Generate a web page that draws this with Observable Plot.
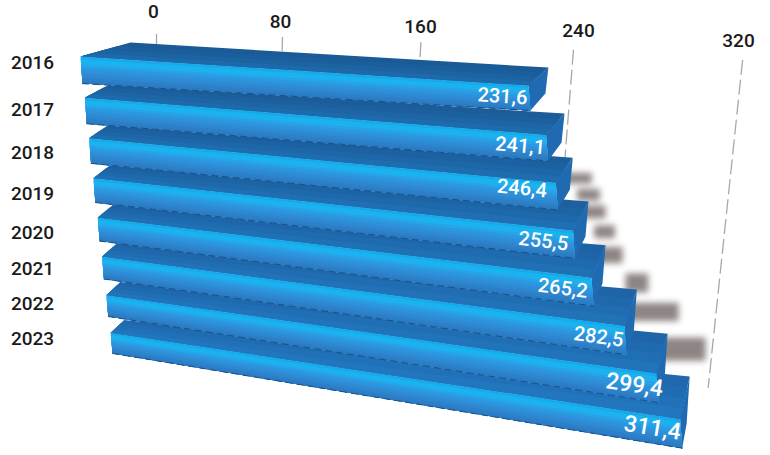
<!DOCTYPE html>
<html><head><meta charset="utf-8">
<style>html,body{margin:0;padding:0;background:#fff}svg{display:block}</style>
<script src="https://cdn.jsdelivr.net/npm/d3@7"></script>
<script src="https://cdn.jsdelivr.net/npm/@observablehq/plot@0.6"></script>
</head><body><div id="chart"></div>
<script>
const years = ["2016","2017","2018","2019","2020","2021","2022","2023"];
const values = [231.6,241.1,246.4,255.5,265.2,282.5,299.4,311.4];
const valueLabels = ["231,6","241,1","246,4","255,5","265,2","282,5","299,4","311,4"];
const xTicks = [0,80,160,240,320];
const topColorsFar = ["#1a5a96","#1b5e9c","#1c63a2","#1d69a9"];
const topColorsNear = ["#1f68ac","#206cb2","#2171b8","#2276bd"];
const frontColors = ["#19a9ea","#18b4f0","#1fb0ef","#27a3e8","#2b99e2","#2d92db","#2e8cd5","#2e86ce","#2d80c8","#2b7bc2"];
const sideColor = "#1f6ab1";
const shadowRows = [2,3,3,4,4,5,5,6];
const shadowLength = [10,9,6,9,5,22,6,20];
const shadowFrom = [0.69,0.48,0.17,0.44,0.04,0.65,0.11,0.48];
const shadowTo = [0.89,0.72,0.39,0.74,0.28,0.99,0.46,0.91];

// Perspective calibration: (value, row) -> picture
const AXIS_TOP=-1, AXIS_BOTTOM=-2, AXIS_LABEL=-3, YEAR_LABEL=-20, SHADOW=100;
const labelNudge=[0,0,-4,-2,-1.5,0,4,1];
const labelRow=[0.6,0.6,0.53,0.6,0.6,0.6,0.6,0.58];
const labelSize=[20,20,20,20,20,20,23,23];
const xfl = r => 80+4.3*r;
const sf  = r => 1.934-0.022*r+0.001*r*r;
const yft = r => 56+41.4*r-0.27*r*r;
const yfb = r => yft(r)+27-r;
const mft = r => 0.065+0.0165*r-0.0006*r*r;
const mfb = r => 0.06+0.0215*r-0.0009*r*r;
const mbk = r => 0.06+0.0057*r;
const offL = r => 10+40/(1+1.5*r);
const offR = r => 20-1.5*r;
const ft = (v,r) => {const x=xfl(r)+v*sf(r); return [x,yft(r)+(x-xfl(r))*mft(r)];};
const fb = (v,r) => {const x=xfl(r)+2+v*sf(r); return [x,yfb(r)+(x-xfl(r))*mfb(r)];};
const bk = (v,r) => {
  const x0=xfl(r)+offL(r), y0=yft(r)-14+0.15*r;
  const x=xfl(r)+v*sf(r)+offL(r)+(offR(r)-offL(r))*(v/values[r]);
  return [x,y0+(x-x0)*mbk(r)];
};
const mix=(a,b,t)=>[a[0]+(b[0]-a[0])*t,a[1]+(b[1]-a[1])*t];
const axisX = v => 156+1.505*v/(1-0.000557*v);
const axisYTop = v => 34+0.02*v+0.00019*v*v;
const axisYBottom = d3.scaleLinear(xTicks,[50,50,70,200,387]);
const labelX = d3.scaleLinear(xTicks,[153,280,420,578,738]);
const labelY = d3.scaleLinear(xTicks,[11,21,26,30,40]);
const yearY = d3.scaleLinear(d3.range(8),[62,109,152,193,232,268,303,338]);

function place(v,s){
  if(s===AXIS_TOP) return [axisX(v),axisYTop(v)];
  if(s===AXIS_BOTTOM){const y=axisYBottom(v), t=axisYTop(v); return [axisX(v)-(y-t)*0.105*(v/320),y];}
  if(s===AXIS_LABEL) return [labelX(v),labelY(v)];
  if(s<=YEAR_LABEL) return [32,yearY(YEAR_LABEL-s)];
  if(s>=SHADOW){
    const q=s-SHADOW, r=Math.floor(q+1e-9), t=q-r, p=bk(values[r],r);
    return [p[0]+(v-values[r])*1.9,p[1]-22+t*54];
  }
  const r=Math.floor(s+1e-9), f=s-r;
  if(f>0.85){const p=bk(values[r],r); return [p[0]-3,p[1]+26+3*r];}
  if(f<=0.4) return mix(bk(v,r),ft(v,r),f/0.4);
  return mix(ft(v,r),fb(v,r),(f-0.4)/0.4);
}
const projection = d3.geoTransform({point(x,y){const p=place(x,y); this.stream.point(p[0],p[1]);}});

const poly=(pts,color)=>({type:"Polygon",coordinates:[[...pts,pts[0]]],color});
const faces=[];
for(let r=7;r>=0;--r){
  const v=values[r], end=r+0.4, bot=r+0.8;
  topColorsFar.forEach((c,i)=>{const a=r+0.4*i/4; faces.push(poly([[0,a],[v,a],[v,end],[0,end]],d3.interpolateRgb(c,topColorsNear[i])(r/7)));});
  faces.push(poly([[v,r],[v,r+0.9],[v,bot],[v,end]],sideColor));
  frontColors.forEach((c,i)=>{const a=end+0.4*i/frontColors.length; faces.push(poly([[0,a],[v,a],[v,bot],[0,bot]],c));});
  faces.push({type:"LineString",coordinates:[[0,bot],[v,bot]],edge:true,color:"none"});
}
const shadows=shadowRows.map((r,i)=>{
  const a=SHADOW+r+shadowFrom[i], b=SHADOW+r+shadowTo[i], v=values[r];
  return poly([[v-6,a],[v+shadowLength[i],a],[v+shadowLength[i],b],[v-6,b]],"#8d8583");
});
const tickLines=xTicks.map(v=>({type:"LineString",coordinates:[[v,AXIS_TOP],[v,AXIS_BOTTOM]]}));

const plot=Plot.plot({
  width:770,height:455,margin:0,
  projection,
  color:{type:"identity"},
  marks:[
    Plot.geo(tickLines,{stroke:"#a8a8a8",strokeWidth:1.3,strokeDasharray:"14 6"}),
    Plot.geo(shadows,{fill:"color",imageFilter:"blur(3px)"}),
    Plot.geo(faces,{fill:"color",stroke:d=>d.edge?"#1b4f86":"none",strokeWidth:1,strokeDasharray:"6 5"}),
    Plot.text(xTicks,{x:d=>d,y:()=>AXIS_LABEL,text:d=>String(d),fontFamily:"Roboto",fontWeight:500,fontSize:19,fill:"#1a1a1a"}),
    Plot.text(years,{x:()=>0,y:(d,i)=>YEAR_LABEL-i,text:d=>d,fontFamily:"Roboto",fontWeight:500,fontSize:19,fill:"#1a1a1a"}),
    Plot.text(values,{x:(d,i)=>d+labelNudge[i],y:(d,i)=>i+labelRow[i],text:(d,i)=>valueLabels[i],rotate:(d,i)=>Math.atan((mft(i)+mfb(i))/2)*180/Math.PI,textAnchor:"end",dx:-2,fontFamily:"Roboto",fontWeight:500,fontSize:(d,i)=>labelSize[i],fill:"#fff"})
  ]
});
document.getElementById("chart").append(plot);
</script></body></html>
